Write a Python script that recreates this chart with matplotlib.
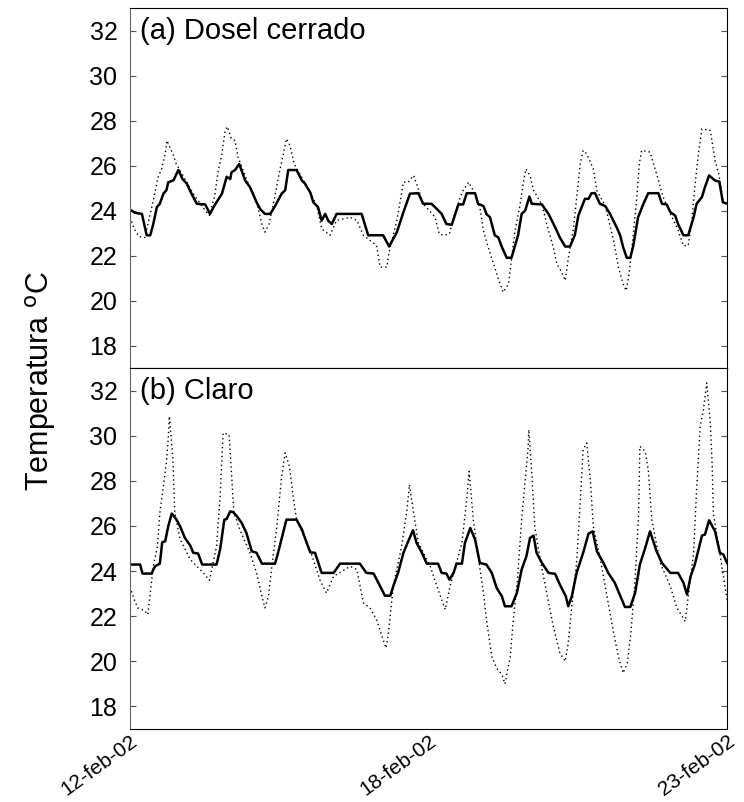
import matplotlib
matplotlib.use("Agg")
import matplotlib.pyplot as plt

plt.rcParams['font.family'] = ['Liberation Sans', 'DejaVu Sans']

# days since 12-feb-02, temperature (deg C)
# (a) Dosel cerrado
days_a_solid = [0.00, 0.03, 0.08, 0.20, 0.28, 0.34, 0.39, 0.45, 0.50, 0.56, 0.61, 0.64, 0.73, 0.81, 0.88,
                0.95, 1.03, 1.12, 1.26, 1.34, 1.41, 1.54, 1.62, 1.68, 1.70, 1.76, 1.83, 1.93, 2.01, 2.12,
                2.18, 2.26, 2.35, 2.43, 2.54, 2.60, 2.65, 2.79, 2.88, 2.93, 3.02, 3.07, 3.15, 3.21, 3.27,
                3.32, 3.38, 3.46, 3.88, 3.99, 4.24, 4.34, 4.47, 4.58, 4.69, 4.83, 4.91, 5.05, 5.14, 5.22,
                5.30, 5.39, 5.44, 5.50, 5.58, 5.64, 5.78, 5.83, 5.92, 5.97, 6.03, 6.11, 6.17, 6.23, 6.31,
                6.39, 6.50, 6.56, 6.62, 6.69, 6.73, 6.90, 7.01, 7.12, 7.20, 7.29, 7.37, 7.45, 7.51, 7.62,
                7.68, 7.73, 7.79, 7.87, 7.96, 8.04, 8.15, 8.21, 8.26, 8.32, 8.38, 8.43, 8.51, 8.60, 8.68,
                8.85, 8.91, 8.99, 9.05, 9.13, 9.18, 9.27, 9.35, 9.44, 9.49, 9.58, 9.63, 9.70, 9.80, 9.87,
                9.93, 10.00]
temp_a_solid = [24.0, 24.0, 23.9, 23.85, 22.9, 22.9, 23.4, 24.15, 24.3, 24.75, 24.9, 25.25, 25.35, 25.8, 25.4,
                25.2, 24.75, 24.3, 24.27, 23.85, 24.2, 24.75, 25.5, 25.4, 25.7, 25.8, 26.07, 25.33, 25.04, 24.37,
                24.07, 23.85, 23.85, 24.2, 24.75, 24.9, 25.8, 25.8, 25.33, 25.2, 24.8, 24.37, 24.15, 23.55, 23.85,
                23.55, 23.4, 23.85, 23.85, 22.9, 22.9, 22.4, 23.04, 23.93, 24.75, 24.77, 24.3, 24.3, 24.07, 23.85,
                23.4, 23.37, 23.78, 24.27, 24.27, 24.77, 24.77, 24.3, 24.2, 23.85, 23.7, 22.9, 22.8, 22.37, 21.9,
                21.9, 22.9, 23.85, 24.0, 24.62, 24.3, 24.27, 23.85, 23.26, 22.8, 22.4, 22.4, 22.9, 23.78, 24.52,
                24.52, 24.77, 24.77, 24.3, 24.2, 23.85, 23.26, 22.9, 22.37, 21.9, 21.9, 22.44, 23.7, 24.3, 24.77,
                24.77, 24.3, 24.27, 23.93, 23.78, 23.4, 22.9, 22.9, 23.7, 24.3, 24.6, 25.04, 25.56, 25.33, 25.29,
                24.37, 24.3]

days_a_dot = [0.00, 0.07, 0.15, 0.25, 0.39, 0.47, 0.53, 0.59, 0.62, 0.67, 0.73, 0.77, 1.06, 1.26, 1.33,
              1.42, 1.48, 1.54, 1.59, 1.63, 1.70, 1.76, 1.81, 2.01, 2.12, 2.21, 2.26, 2.33, 2.43, 2.51,
              2.57, 2.62, 2.68, 2.75, 3.02, 3.13, 3.21, 3.35, 3.46, 3.69, 3.80, 3.91, 4.13, 4.19, 4.30,
              4.34, 4.47, 4.58, 4.66, 4.75, 4.80, 4.91, 5.11, 5.18, 5.25, 5.35, 5.44, 5.56, 5.67, 5.75,
              5.86, 5.92, 6.00, 6.09, 6.17, 6.25, 6.34, 6.39, 6.45, 6.53, 6.59, 6.63, 6.70, 6.76, 6.90,
              6.98, 7.09, 7.15, 7.23, 7.29, 7.34, 7.43, 7.48, 7.54, 7.59, 7.65, 7.76, 7.82, 7.96, 8.10,
              8.18, 8.26, 8.31, 8.36, 8.42, 8.49, 8.53, 8.57, 8.71, 8.82, 8.93, 9.05, 9.16, 9.27, 9.35,
              9.41, 9.46, 9.52, 9.58, 9.72, 9.80, 9.86, 9.94, 10.00]
temp_a_dot = [23.7, 23.19, 22.84, 22.8, 24.44, 25.48, 25.85, 26.52, 27.11, 26.8, 26.44, 26.1, 24.75, 24.0, 23.78,
              24.67, 25.8, 26.52, 27.48, 27.73, 27.19, 27.11, 26.37, 25.0, 24.37, 23.4, 23.04, 23.4, 24.67, 25.8,
              26.52, 27.19, 26.89, 26.07, 24.8, 24.2, 23.19, 22.9, 23.56, 23.7, 23.56, 22.9, 22.44, 21.48, 21.48,
              22.15, 23.56, 25.26, 25.26, 25.56, 25.19, 24.3, 23.7, 22.96, 22.9, 22.96, 23.85, 24.81, 25.26, 24.89,
              24.15, 23.11, 22.37, 21.63, 20.96, 20.37, 20.74, 21.85, 23.11, 24.2, 25.26, 25.85, 25.56, 24.89, 24.27,
              23.4, 22.37, 21.63, 21.26, 20.89, 21.85, 23.26, 24.52, 26.07, 26.67, 26.52, 25.85, 24.89, 24.2, 22.67,
              21.48, 20.74, 20.44, 21.19, 22.67, 24.6, 26.07, 26.67, 26.6, 25.63, 24.6, 23.85, 23.26, 22.44, 22.44,
              23.56, 25.04, 26.52, 27.63, 27.56, 26.22, 25.63, 24.37, 24.3]

# (b) Claro
days_b_solid = [0.00, 0.17, 0.21, 0.36, 0.42, 0.50, 0.54, 0.59, 0.64, 0.70, 0.78, 0.84, 0.92, 1.01, 1.06,
                1.14, 1.21, 1.45, 1.51, 1.58, 1.62, 1.68, 1.73, 1.79, 1.87, 1.95, 2.04, 2.12, 2.21, 2.43,
                2.48, 2.62, 2.79, 2.88, 2.96, 3.02, 3.10, 3.21, 3.41, 3.52, 3.85, 3.96, 4.08, 4.16, 4.27,
                4.36, 4.41, 4.49, 4.58, 4.66, 4.74, 4.80, 4.89, 4.97, 5.16, 5.22, 5.30, 5.35, 5.42, 5.47,
                5.56, 5.61, 5.70, 5.78, 5.86, 5.97, 6.06, 6.14, 6.23, 6.28, 6.39, 6.48, 6.56, 6.64, 6.70,
                6.76, 6.81, 6.90, 7.01, 7.12, 7.20, 7.30, 7.34, 7.40, 7.48, 7.59, 7.68, 7.75, 7.82, 7.93,
                8.01, 8.12, 8.21, 8.29, 8.38, 8.46, 8.54, 8.63, 8.71, 8.82, 8.91, 9.05, 9.18, 9.27, 9.33,
                9.39, 9.46, 9.58, 9.63, 9.70, 9.80, 9.88, 9.94, 10.00]
temp_b_solid = [24.29, 24.29, 23.89, 23.89, 24.21, 24.33, 25.28, 25.32, 25.98, 26.55, 26.28, 25.98, 25.47, 25.13, 24.81,
                24.78, 24.29, 24.29, 24.96, 26.28, 26.31, 26.65, 26.61, 26.43, 26.14, 25.69, 24.88, 24.81, 24.33, 24.33,
                24.81, 26.28, 26.28, 25.84, 25.25, 24.83, 24.81, 23.92, 23.92, 24.33, 24.33, 23.92, 23.89, 23.48, 22.91,
                22.91, 23.33, 23.92, 24.81, 25.32, 25.81, 25.25, 24.81, 24.33, 24.33, 23.92, 23.89, 23.62, 23.92, 24.33,
                24.33, 25.25, 25.91, 25.40, 24.36, 24.29, 23.92, 23.26, 22.88, 22.44, 22.44, 23.03, 24.07, 24.66, 25.47,
                25.57, 24.81, 24.36, 23.92, 23.88, 23.40, 22.88, 22.44, 22.88, 23.92, 24.81, 25.66, 25.76, 24.88, 24.36,
                23.92, 23.48, 22.91, 22.41, 22.41, 23.03, 24.29, 25.03, 25.76, 24.88, 24.36, 23.92, 23.92, 23.48, 22.96,
                23.77, 24.29, 25.57, 25.62, 26.25, 25.76, 24.81, 24.73, 24.36]

days_b_dot = [0.00, 0.07, 0.13, 0.24, 0.30, 0.34, 0.39, 0.46, 0.50, 0.56, 0.61, 0.64, 0.66, 0.72, 0.75,
              0.84, 1.01, 1.23, 1.33, 1.45, 1.51, 1.56, 1.66, 1.70, 1.74, 1.84, 2.01, 2.12, 2.21, 2.26,
              2.32, 2.37, 2.46, 2.54, 2.60, 2.67, 2.74, 2.79, 3.02, 3.18, 3.29, 3.41, 3.69, 3.80, 3.91,
              4.02, 4.13, 4.22, 4.29, 4.33, 4.41, 4.55, 4.64, 4.68, 4.75, 4.83, 5.03, 5.14, 5.28, 5.36,
              5.56, 5.64, 5.68, 5.75, 5.84, 5.92, 5.97, 6.06, 6.14, 6.23, 6.28, 6.37, 6.42, 6.49, 6.56,
              6.62, 6.67, 6.68, 6.73, 6.78, 6.87, 6.98, 7.09, 7.20, 7.29, 7.34, 7.40, 7.48, 7.54, 7.59,
              7.65, 7.71, 7.76, 7.87, 7.98, 8.10, 8.18, 8.26, 8.33, 8.39, 8.46, 8.52, 8.54, 8.63, 8.68,
              8.74, 8.88, 9.05, 9.16, 9.30, 9.35, 9.44, 9.49, 9.55, 9.60, 9.66, 9.72, 9.75, 9.77, 9.86,
              9.94, 10.00]
temp_b_dot = [23.3, 22.74, 22.37, 22.26, 22.07, 23.03, 24.21, 25.10, 26.58, 27.76, 28.80, 29.83, 30.86, 28.94, 26.58,
              25.40, 24.51, 23.92, 23.59, 25.10, 27.32, 30.12, 30.05, 28.35, 26.58, 25.84, 24.81, 23.92, 22.88, 22.37,
              22.88, 24.07, 25.98, 28.20, 29.24, 28.64, 27.17, 26.28, 24.9, 23.62, 23.03, 23.77, 24.21, 24.07, 22.59,
              22.37, 21.85, 21.11, 20.59, 21.26, 23.33, 25.10, 26.73, 27.83, 26.58, 25.25, 24.21, 23.33, 22.29, 23.33,
              25.25, 27.17, 28.42, 26.28, 24.51, 23.03, 21.85, 20.22, 19.70, 19.41, 19.0, 20.22, 21.85, 23.62, 26.28,
              28.06, 29.53, 30.27, 28.35, 25.98, 24.51, 23.03, 21.55, 20.37, 20.0, 20.81, 22.44, 24.36, 27.02, 29.38,
              29.68, 28.06, 25.98, 24.65, 23.03, 21.26, 20.22, 19.48, 19.93, 21.26, 23.62, 26.58, 29.53, 29.31, 28.5,
              26.28, 24.36, 23.33, 22.37, 21.77, 22.88, 24.81, 27.61, 30.42, 31.08, 32.34, 30.57, 28.80, 26.58, 25.10,
              23.77, 22.74]

xtick_pos = [0, 5, 10]
xtick_labels = ['12-feb-02', '18-feb-02', '23-feb-02']
yticks = [18, 20, 22, 24, 26, 28, 30, 32]

fig = plt.figure(figsize=(7.44, 8.02), dpi=100)
ax_a = fig.add_axes([0.1747, 0.5411, 0.8025, 0.4489])
ax_b = fig.add_axes([0.1747, 0.0910, 0.8025, 0.4501], sharex=ax_a)

panels = [
    (ax_a, days_a_solid, temp_a_solid, days_a_dot, temp_a_dot, '(a) Dosel cerrado'),
    (ax_b, days_b_solid, temp_b_solid, days_b_dot, temp_b_dot, '(b) Claro'),
]

for ax, ds, ts, dd, td, title in panels:
    ax.plot(dd, td, color='black', lw=1.0, linestyle=(0, (1, 2.2)))
    ax.plot(ds, ts, color='black', lw=1.8)
    ax.set_xlim(0, 10)
    ax.set_ylim(17, 33)
    ax.set_yticks(yticks)
    ax.tick_params(axis='y', direction='in', length=4, labelsize=18, pad=9,
                   right=True, left=True, color='#555555')
    ax.tick_params(axis='x', length=0)
    ax.spines['left'].set_color('#666666')
    ax.text(0.016, 0.975, title, transform=ax.transAxes, fontsize=21,
            ha='left', va='top')

ax_a.tick_params(axis='x', labelbottom=False)
ax_b.set_xticks(xtick_pos)
ax_b.set_xticklabels(xtick_labels, rotation=36, ha='right', va='top',
                     rotation_mode='anchor', fontsize=15)
ax_b.tick_params(axis='x', pad=2)

fig.text(0.055, 0.525, 'Temperatura $^{\\mathrm{o}}$C', rotation=90,
         fontsize=22, ha='center', va='center')

fig.savefig('out.png', dpi=100)
